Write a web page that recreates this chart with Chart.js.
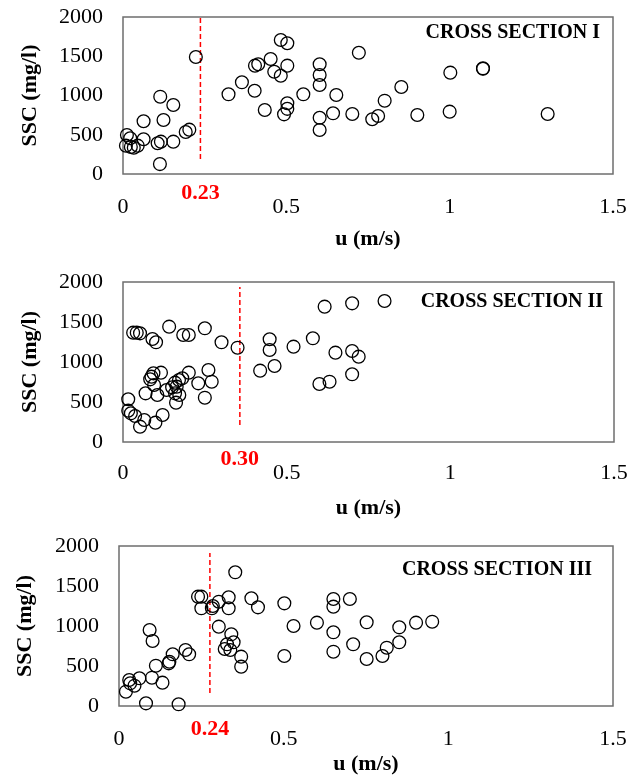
<!DOCTYPE html>
<html><head><meta charset="utf-8">
<script src="https://cdn.jsdelivr.net/npm/chart.js@4.4.1/dist/chart.umd.min.js"></script>
<style>
body{margin:0;background:#fff;width:641px;height:782px;position:relative;overflow:hidden}
canvas{position:absolute;left:0}
</style></head>
<body>
<canvas id="c0" width="641" height="260" style="top:0px"></canvas>
<canvas id="c1" width="641" height="265" style="top:260px"></canvas>
<canvas id="c2" width="641" height="262" style="top:520px"></canvas>
<script>
// ---- data ----
const xTicks = [0, 0.5, 1, 1.5];
const yTicks = [0, 500, 1000, 1500, 2000];
const panelTitles = ['CROSS SECTION I', 'CROSS SECTION II', 'CROSS SECTION III'];
const thresholdLabels = ['0.23', '0.30', '0.24'];
const thresholdLineU = [0.237, 0.357, 0.276];
const thresholdLineFrom = [190, 212, 162];
const thresholdLineTo = [2000, 1937, 1912];

const s1U = [0.012,0.022,0.009,0.024,0.033,0.045,0.063,0.063,0.106,0.116,0.113,0.114,0.124,0.154,0.154,0.192,0.203,0.223,
  0.323,0.364,0.403,0.404,0.414,0.434,0.452,0.463,0.483,0.503,0.503,0.483,0.503,0.503,0.493,0.552,
  0.602,0.602,0.602,0.602,0.602,0.643,0.653,0.702,0.722,0.763,0.781,0.801,0.852,0.901,1.002,1.000,1.102,1.102,1.300];
const s1SSC = [497,455,361,345,335,361,442,672,391,412,126,985,688,879,412,535,565,1490,
  1015,1168,1061,1380,1398,815,1465,1303,1707,1665,1380,1252,901,830,760,1015,
  1398,1261,1134,717,560,773,1006,764,1545,697,739,934,1108,752,1291,794,1346,1340,764];

const s2U = [0.016,0.016,0.024,0.037,0.065,0.052,0.099,0.121,
  0.031,0.042,0.052,0.090,0.101,0.141,0.184,0.201,0.250,0.301,0.350,
  0.448,0.448,0.419,0.463,0.521,0.580,0.616,0.600,0.631,
  0.700,0.799,0.649,0.700,0.720,0.700,
  0.069,0.087,0.093,0.116,0.083,0.095,0.105,0.133,0.150,0.159,0.171,0.181,0.164,0.159,0.172,0.162,0.201,0.230,0.261,0.271,0.250];
const s2SSC = [534,392,358,325,275,192,242,338,
  1367,1367,1358,1288,1246,1442,1338,1338,1421,1246,1179,
  1284,1150,892,950,1192,1296,1692,725,754,
  1733,1763,1117,1137,1067,846,
  608,817,858,867,783,712,587,650,683,742,775,796,692,608,587,492,867,733,900,754,554];

const s3U = [0.021,0.031,0.034,0.047,0.062,0.082,0.093,0.102,0.100,0.112,0.132,0.151,0.153,0.163,0.181,0.202,0.213,
  0.240,0.250,0.250,0.282,0.285,0.303,0.333,0.333,0.353,0.402,0.422,
  0.303,0.341,0.348,0.328,0.321,0.338,0.371,0.371,
  0.502,0.502,0.530,0.601,
  0.651,0.651,0.701,0.752,0.651,0.651,0.711,0.752,0.800,0.813,0.851,0.851,0.902,0.951];
const s3SSC = [179,325,283,254,346,33,950,813,354,504,292,533,554,646,21,700,646,
  1367,1367,1221,1221,1250,1304,1358,1221,1671,1346,1233,
  992,896,796,771,712,700,617,492,
  1283,625,1000,1042,
  1338,1242,1338,1046,921,679,771,588,625,729,796,983,1042,1054];

const seriesU = [s1U, s2U, s3U];
const seriesSSC = [s1SSC, s2SSC, s3SSC];

// ---- layout per panel (pixels) ----
const layouts = [
  {padTop:17, right:613, yAxisW:123, xAxisH:86, xTickPad:20, xTitlePad:7, yTitlePad:17, titleDx:13, titleDy:16, labelDy:19},
  {padTop:22, right:614, yAxisW:123, xAxisH:83, xTickPad:18, xTitlePad:3, yTitlePad:17, titleDx:11, titleDy:20, labelDy:17},
  {padTop:26, right:613, yAxisW:119, xAxisH:76, xTickPad:20, xTitlePad:4, yTitlePad:12, titleDx:21, titleDy:24, labelDy:23}
];

const FAM = '"Liberation Serif", "Times New Roman", serif';

const panelPlugin = {
  id: 'panelDeco',
  beforeDatasetsDraw(chart, args, o) {
    const {ctx, chartArea: a} = chart;
    ctx.save();
    ctx.strokeStyle = '#6e6e6e';
    ctx.lineWidth = 1.5;
    ctx.strokeRect(a.left, a.top, a.right - a.left, a.bottom - a.top);
    ctx.restore();
  },
  afterDraw(chart, args, o) {
    const {ctx, chartArea: a, scales: {x}} = chart;
    ctx.save();
    ctx.font = 'bold 20px ' + FAM;
    ctx.fillStyle = '#000';
    ctx.textAlign = 'right';
    ctx.textBaseline = 'middle';
    ctx.fillText(o.title, a.right - o.titleDx, a.top + o.titleDy);
    ctx.font = 'bold 22px ' + FAM;
    ctx.fillStyle = '#ff0000';
    ctx.textAlign = 'center';
    ctx.fillText(o.label, x.getPixelForValue(o.lineU), a.bottom + o.labelDy);
    ctx.restore();
  }
};

for (let i = 0; i < 3; i++) {
  const L = layouts[i];
  const pts = seriesU[i].map((u, k) => ({x: u, y: seriesSSC[i][k]}));
  new Chart(document.getElementById('c' + i), {
    type: 'scatter',
    data: {
      datasets: [
        {
          data: pts,
          pointStyle: 'circle',
          pointRadius: 6.4,
          pointBorderWidth: 1.3,
          pointBackgroundColor: 'rgba(0,0,0,0)',
          pointBorderColor: '#000',
          clip: false
        },
        {
          type: 'line',
          data: [{x: thresholdLineU[i], y: thresholdLineFrom[i]}, {x: thresholdLineU[i], y: thresholdLineTo[i]}],
          borderColor: '#ff0000',
          borderWidth: 1.5,
          borderDash: [5, 3],
          pointRadius: 0,
          fill: false
        }
      ]
    },
    options: {
      responsive: false,
      animation: false,
      events: [],
      layout: {padding: {top: L.padTop, right: 641 - L.right, left: 0, bottom: 0}},
      plugins: {
        legend: {display: false},
        tooltip: {enabled: false},
        panelDeco: {title: panelTitles[i], label: thresholdLabels[i], lineU: thresholdLineU[i],
                    titleDx: L.titleDx, titleDy: L.titleDy, labelDy: L.labelDy}
      },
      scales: {
        x: {
          type: 'linear', min: xTicks[0], max: xTicks[xTicks.length - 1],
          afterBuildTicks: s => { s.ticks = xTicks.map(v => ({value: v})); },
          ticks: {padding: L.xTickPad, color: '#000', font: {family: FAM, size: 22}, maxRotation: 0,
                  callback: v => String(v)},
          grid: {display: false, drawTicks: false},
          border: {display: false},
          title: {display: true, text: 'u (m/s)', color: '#000', font: {family: FAM, size: 22, weight: 'bold'},
                  padding: {top: 0, bottom: L.xTitlePad}},
          afterFit: s => { s.height = L.xAxisH; s.paddingLeft = 0; s.paddingRight = 0; }
        },
        y: {
          type: 'linear', min: yTicks[0], max: yTicks[yTicks.length - 1],
          afterBuildTicks: s => { s.ticks = yTicks.map(v => ({value: v})); },
          ticks: {padding: 20, color: '#000', font: {family: FAM, size: 22}, callback: v => String(v)},
          grid: {display: false, drawTicks: false},
          border: {display: false},
          title: {display: true, text: 'SSC (mg/l)', color: '#000', font: {family: FAM, size: 22, weight: 'bold'},
                  padding: {top: L.yTitlePad, bottom: 0}},
          afterFit: s => { s.width = L.yAxisW; s.paddingTop = 0; s.paddingBottom = 0; }
        }
      }
    },
    plugins: [panelPlugin]
  });
}
</script>
</body></html>
